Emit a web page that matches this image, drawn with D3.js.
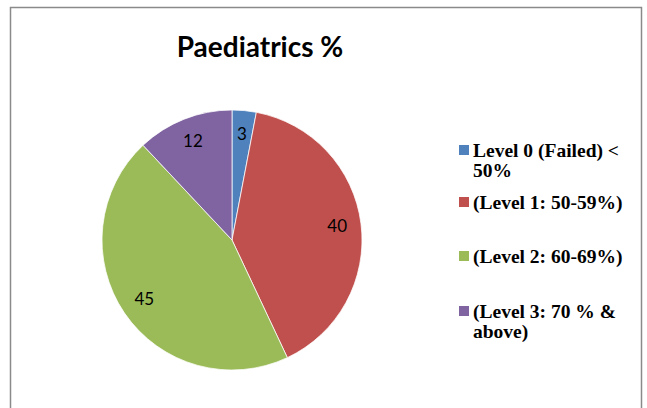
<!DOCTYPE html>
<html>
<head>
<meta charset="utf-8">
<script src="https://cdn.jsdelivr.net/npm/d3@7"></script>
<style>
  body { margin: 0; background: #fff; }
</style>
</head>
<body>
<svg id="chart" width="647" height="408"></svg>
<script>
// Chart data
const categories = ["Level 0 (Failed) < 50%", "(Level 1: 50-59%)", "(Level 2: 60-69%)", "(Level 3: 70 % & above)"];
const values = [3, 40, 45, 12];
const legendLines = [["Level 0 (Failed) <", "50%"], ["(Level 1: 50-59%)"], ["(Level 2: 60-69%)"], ["(Level 3: 70 % &", "above)"]];
const colors = ["#4F81BD", "#C0504D", "#9BBB59", "#8064A2"];

const svg = d3.select("#chart");

// chart area border
svg.append("rect")
    .attr("x", 10.5).attr("y", 7.5)
    .attr("width", 631).attr("height", 420)
    .attr("fill", "white")
    .attr("stroke", "#8a8a8a")
    .attr("stroke-width", 1.5);

// Title
svg.append("text")
    .attr("x", 260).attr("y", 57)
    .attr("text-anchor", "middle")
    .attr("font-family", "Lato, 'Open Sans', sans-serif")
    .attr("font-weight", "bold")
    .attr("font-size", 28)
    .attr("fill", "#000")
    .text("Paediatrics %");

const data = categories.map((c, i) => ({ key: c, value: values[i], color: colors[i] }));

const radius = 130;
const g = svg.append("g").attr("transform", "translate(232,240)");

const pie = d3.pie().value(d => d.value).sort(null);
const arc = d3.arc().innerRadius(0).outerRadius(radius);
const labelArc = d3.arc().innerRadius(106).outerRadius(106);

g.selectAll("path")
    .data(pie(data))
    .enter()
    .append("path")
    .attr("d", arc)
    .attr("fill", d => d.data.color)
    .attr("stroke", "white")
    .attr("stroke-width", 0.75);

// data labels
g.selectAll("text.label")
    .data(pie(data))
    .enter()
    .append("text")
    .attr("class", "label")
    .attr("transform", d => `translate(${labelArc.centroid(d)})`)
    .attr("text-anchor", "middle")
    .attr("dy", "0.3em")
    .attr("font-family", "Lato, 'Open Sans', sans-serif")
    .attr("font-size", 17)
    .attr("fill", "#000")
    .text(d => d.data.value);

// Legend
const legendY = [157, 209, 263, 318];
const legend = svg.append("g").attr("transform", "translate(459,0)");

const items = legend.selectAll("g")
    .data(data)
    .enter()
    .append("g")
    .attr("transform", (d, i) => `translate(0,${legendY[i]})`);

items.append("rect")
    .attr("x", 0).attr("y", -12)
    .attr("width", 10).attr("height", 10)
    .attr("fill", d => d.color);

items.append("text")
    .attr("x", 14)
    .attr("y", 0)
    .attr("font-family", "'Liberation Serif', 'Times New Roman', serif")
    .attr("font-weight", "bold")
    .attr("font-size", 19.5)
    .attr("fill", "#000")
    .selectAll("tspan")
    .data((d, i) => legendLines[i])
    .enter()
    .append("tspan")
    .attr("x", 14)
    .attr("dy", (d, j) => j === 0 ? 0 : 20)
    .text(d => d);
</script>
</body>
</html>
